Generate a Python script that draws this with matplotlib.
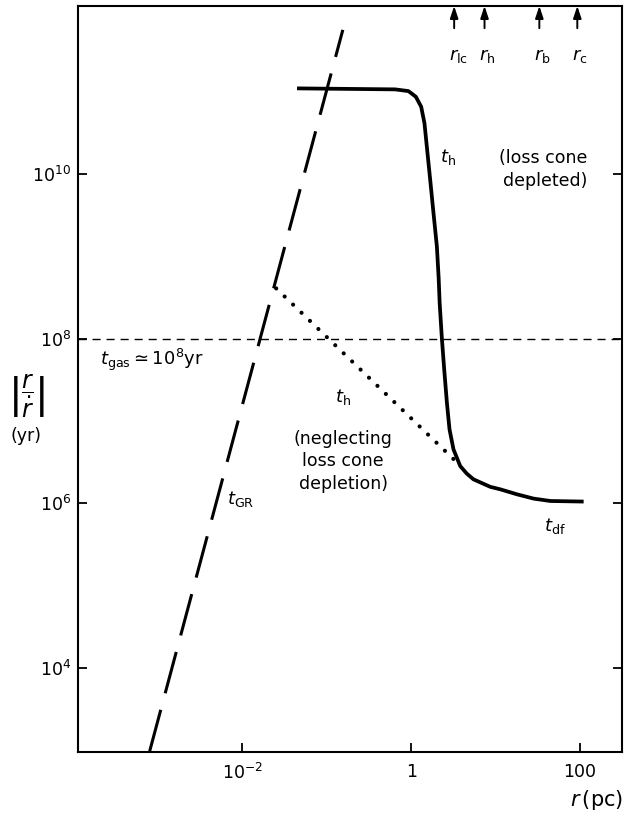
import matplotlib.pyplot as plt
import numpy as np
from matplotlib.ticker import NullLocator

plt.rcParams['font.family'] = ['DejaVu Sans']
plt.rcParams['mathtext.fontset'] = 'dejavusans'

# values as log10 r (pc) and log10 t (yr)

# t_GR, gravitational radiation time (long dashes)
gr_logr = [-3.10, -0.81]
gr_logt = [2.99, 11.75]

# t_h neglecting loss cone depletion (dotted)
thn_logr = [-1.60, 0.54]
thn_logt = [8.61, 6.50]

# t_h with loss cone depleted, merging into t_df (solid)
th_logr = [-1.353, -0.190, -0.032, 0.056, 0.119, 0.158, 0.186, 0.226,
           0.265, 0.305, 0.326, 0.338, 0.364, 0.392, 0.424, 0.455, 0.502,
           0.582, 0.660, 0.739, 0.938, 1.056, 1.255, 1.452, 1.650, 2.045]
th_logt = [11.039, 11.027, 11.006, 10.937, 10.816, 10.615, 10.331, 9.927,
           9.524, 9.119, 8.739, 8.433, 8.008, 7.624, 7.220, 6.897, 6.655,
           6.452, 6.360, 6.291, 6.200, 6.170, 6.109, 6.057, 6.028, 6.021]

t_gas = 1e8

# characteristic radii marked on the top axis
radii_names = [r'$r_{\rm lc}$', r'$r_{\rm h}$', r'$r_{\rm b}$', r'$r_{\rm c}$']
radii_logr = [0.51, 0.87, 1.52, 1.97]

xticks = [1e-2, 1, 100]
xticklabels = [r'$10^{-2}$', '1', '100']
yticks = [1e4, 1e6, 1e8, 1e10]
yticklabels = [r'$10^4$', r'$10^6$', r'$10^8$', r'$10^{10}$']


def pw(v):
    return 10.0 ** np.asarray(v)


fig = plt.figure(figsize=(6.25, 8.17), dpi=100)
ax = fig.add_axes([0.1248, 0.0796, 0.8704, 0.9131])
ax.set_xscale('log')
ax.set_yscale('log')
ax.set_xlim(10 ** -3.95, 10 ** 2.50)
ax.set_ylim(10 ** 2.98, 10 ** 12.04)

# t_gas
ax.axhline(t_gas, color='black', lw=1.0, dashes=(5.8, 4.3))

# t_GR
ax.plot(pw(gr_logr), pw(gr_logt), color='black', lw=2.2,
        dashes=(14, 5.6), dash_capstyle='butt')

# t_h neglecting depletion
ax.plot(pw(thn_logr), pw(thn_logt), color='black', lw=3.0,
        dashes=(0.01, 2.8), dash_capstyle='round')

# t_h loss cone depleted -> t_df
ax.plot(pw(th_logr), pw(th_logt), color='black', lw=2.7,
        solid_capstyle='butt', solid_joinstyle='round')

# arrows on the top axis
for name, lr in zip(radii_names, radii_logr):
    ax.annotate('', xy=(10 ** lr, 1.0), xycoords=('data', 'axes fraction'),
                xytext=(0, -16), textcoords='offset points',
                arrowprops=dict(arrowstyle='-|>,head_length=0.6,head_width=0.2',
                                mutation_scale=12, color='black', lw=1.4,
                                shrinkA=0, shrinkB=0))
    ax.annotate(name, xy=(10 ** lr, 1.0), xycoords=('data', 'axes fraction'),
                xytext=(-4, -36), textcoords='offset points',
                ha='left', va='center', fontsize=13)

# labels
ax.text(10 ** 0.344, 10 ** 10.206, r'$t_{\rm h}$', fontsize=13,
        ha='left', va='center')
ax.text(10 ** 2.089, 10 ** 10.055, '(loss cone\ndepleted)', fontsize=12.5,
        ha='right', va='center', multialignment='right', linespacing=1.3)
ax.text(10 ** -3.691, 10 ** 7.745, r'$t_{\rm gas} \simeq 10^8{\rm yr}$',
        fontsize=13, ha='left', va='center')
ax.text(10 ** -2.184, 10 ** 6.049, r'$t_{\rm GR}$', fontsize=13,
        ha='left', va='center')
ax.text(10 ** -0.902, 10 ** 7.285, r'$t_{\rm h}$', fontsize=13,
        ha='left', va='center')
ax.text(10 ** -0.807, 10 ** 6.509, '(neglecting\nloss cone\ndepletion)',
        fontsize=12.5, ha='center', va='center', multialignment='center',
        linespacing=1.3)
ax.text(10 ** 1.709, 10 ** 5.721, r'$t_{\rm df}$', fontsize=13,
        ha='center', va='center')

fig.text(0.0416, 0.5153, r'$\left|\dfrac{r}{\dot{r}}\right|$', fontsize=17,
         ha='center', va='center')
fig.text(0.0416, 0.4663, '(yr)', fontsize=12.5, ha='center', va='center')
fig.text(0.997, 0.0208, r'$r\,$(pc)', fontsize=15, ha='right', va='center')

# axes styling
ax.set_xticks(xticks)
ax.set_xticklabels(xticklabels)
ax.set_yticks(yticks)
ax.set_yticklabels(yticklabels)
ax.xaxis.set_minor_locator(NullLocator())
ax.yaxis.set_minor_locator(NullLocator())
ax.tick_params(which='major', direction='in', length=6.5, width=1.3,
               left=True, right=True, bottom=True, top=False,
               labelsize=12.5)
ax.tick_params(axis='x', pad=8)
ax.tick_params(axis='y', pad=5)
for sp in ax.spines.values():
    sp.set_linewidth(1.5)

fig.savefig('out.png', dpi=100)
